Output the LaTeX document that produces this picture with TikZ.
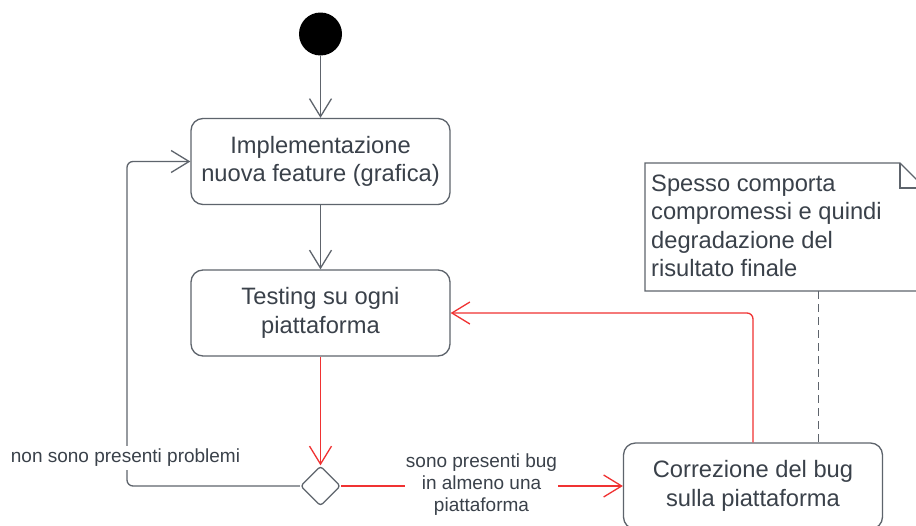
\documentclass[tikz,border=0pt]{standalone}
\usepackage{fontspec}
\setmainfont{Liberation Sans}
\usetikzlibrary{arrows.meta,shapes.geometric}
\definecolor{ln}{HTML}{5E646C}
\definecolor{tx}{HTML}{3A414A}
\definecolor{rd}{HTML}{F03232}
\tikzset{
  act/.style={draw=ln, line width=1.3pt, rounded corners=12pt, minimum width=259pt,
    minimum height=86pt, align=center, text=tx, inner sep=0pt,
    font=\fontsize{23.7}{28.4}\selectfont},
  flow/.style={draw=ln, line width=1.3pt, -{Straight Barb[length=18pt,width=22pt]}},
  rflow/.style={draw=rd, line width=1.3pt, -{Straight Barb[length=18pt,width=22pt]}},
  lbl/.style={fill=white, text=tx, align=center, inner xsep=1pt, inner ysep=3pt,
    font=\fontsize{19}{22}\selectfont},
  notebox/.style={draw=ln, line width=1.3pt, fill=white},
  notetext/.style={text=tx, align=left, inner sep=0pt,
    font=\fontsize{23.7}{28.4}\selectfont},
  anchorline/.style={draw=ln, line width=1.3pt, dash pattern=on 8pt off 5pt}
}
\begin{document}
\begin{tikzpicture}[x=1pt,y=-1pt]
\useasboundingbox (0,0) rectangle (916,525);
\fill[white] (0,0) rectangle (916,525);
\clip (0,0) rectangle (916,525);

% note
\draw[notebox] (645,163) -- (900,163) -- (925,188) -- (925,291) -- (645,291) -- cycle;
\draw[draw=ln, line width=1.3pt] (900,163) -- (900,188) -- (925,188);
\node[notetext, anchor=base west] (note) at (651,276.7)
  {Spesso comporta\\compromessi e quindi\\degradazione del\\risultato finale};
\coordinate (notebot) at (818.5,291);

% nodes
\node[circle, fill=black, minimum size=43pt, inner sep=0pt] (st) at (320.5,34) {};
\node[act] (a1) at (320.5,161.5) {Implementazione\\nuova feature (grafica)};
\node[act] (a2) at (320.5,313) {Testing su ogni\\piattaforma};
\node[diamond, draw=ln, line width=1.3pt, fill=white, minimum width=40pt,
  minimum height=40pt, inner sep=0pt, rounded corners=3pt] (dec) at (320.5,486) {};
\node[act] (c3) at (753,486) {Correzione del bug\\sulla piattaforma};
\coordinate (loopx) at (127,0);

% connectors
\draw[flow] (st) -- (a1);
\draw[flow] (a1) -- (a2);
\draw[rflow] (a2) -- (dec);
\draw[flow, rounded corners=6pt] (dec.west) -- (dec.west -| loopx) -- (a1.west -| loopx) -- (a1.west);
\draw[rflow] (dec.east) -- (c3.west);
\draw[rflow, rounded corners=6pt] (c3.north) |- (a2.east);
\draw[anchorline] (notebot) -- (notebot |- c3.north);

% labels
\node[lbl] (l1) at (125.5,458) {non sono presenti problemi};
\node[lbl] (l2) at (481.5,485) {sono presenti bug\\in almeno una\\piattaforma};
\end{tikzpicture}
\end{document}
